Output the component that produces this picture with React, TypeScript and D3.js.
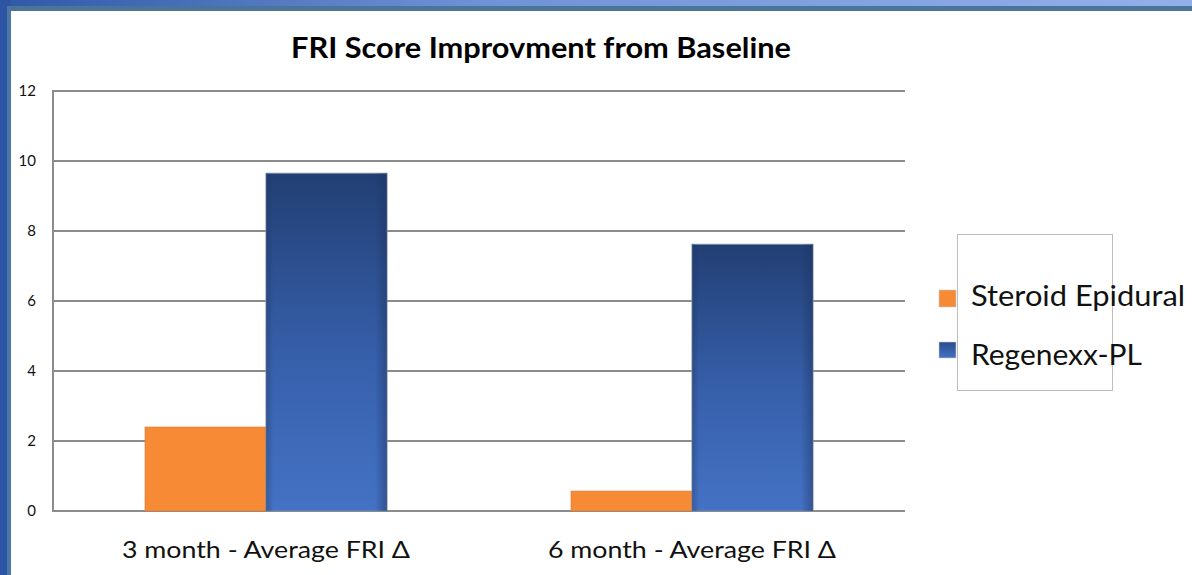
import React from "react";
import * as d3 from "d3";

const categories = ["3 month - Average FRI Δ", "6 month - Average FRI Δ"];
const seriesNames = ["Steroid Epidural", "Regenexx-PL"];
const steroidValues = [2.4, 0.57];
const regenexxValues = [9.65, 7.62];
const yTicks = [0, 2, 4, 6, 8, 10, 12];
const title = "FRI Score Improvment from Baseline";

const W = 1192;
const H = 575;
const M = { left: 53, right: 905, top: 91, bottom: 511 };

export default function App() {
  const x0 = d3.scaleBand<string>().domain(categories).range([M.left, M.right]).paddingInner(0).paddingOuter(0);
  const y = d3.scaleLinear().domain([0, 12]).range([M.bottom, M.top]);
  const groupW = x0.bandwidth();
  const barW = 121;
  const x1 = d3
    .scaleBand<string>()
    .domain(seriesNames)
    .range([groupW / 2 - barW, groupW / 2 + barW])
    .padding(0);

  const series = [steroidValues, regenexxValues];
  const font = "Lato, 'Open Sans', sans-serif";

  return (
    <svg width={W} height={H} style={{ position: "absolute", left: 0, top: 0, display: "block" }}>
      <defs>
        <linearGradient id="topband" x1="0" x2="1" y1="0" y2="0">
          <stop offset="0" stopColor="#2f58a6" />
          <stop offset="0.4" stopColor="#6f92d6" />
          <stop offset="1" stopColor="#93b0ea" />
        </linearGradient>
        <linearGradient id="blueV" x1="0" x2="0" y1="0" y2="1">
          <stop offset="0" stopColor="#223f74" />
          <stop offset="0.55" stopColor="#3760ab" />
          <stop offset="1" stopColor="#4472c4" />
        </linearGradient>
        <linearGradient id="blueEdge" x1="0" x2="1" y1="0" y2="0">
          <stop offset="0" stopColor="#1a2f5a" stopOpacity="0.35" />
          <stop offset="0.06" stopColor="#1a2f5a" stopOpacity="0" />
          <stop offset="0.9" stopColor="#1a2f5a" stopOpacity="0" />
          <stop offset="1" stopColor="#1a2f5a" stopOpacity="0.45" />
        </linearGradient>
        <linearGradient id="legBlue" x1="0" x2="0" y1="0" y2="1">
          <stop offset="0" stopColor="#2a4d8f" />
          <stop offset="1" stopColor="#4472c4" />
        </linearGradient>
      </defs>
      <rect x={0} y={0} width={W} height={H} fill="#ffffff" />
      {/* frame */}
      <rect x={0} y={0} width={W} height={6} fill="url(#topband)" />
      <rect x={0} y={6} width={W} height={5} fill="#4a7598" />
      <rect x={0} y={0} width={7} height={H} fill="#2e55a4" />
      <rect x={7} y={6} width={4} height={H - 6} fill="#4a78a3" />
      <rect x={7} y={0} width={4} height={6} fill="#2e55a4" />

      {/* title */}
      <text x={541} y={58} textAnchor="middle" fontFamily={font} fontWeight={700} fontSize={28} fill="#000" textLength={500} lengthAdjust="spacingAndGlyphs">
        {title}
      </text>

      {/* gridlines */}
      {yTicks.map((t) => (
        <line key={t} x1={M.left} x2={M.right} y1={y(t)} y2={y(t)} stroke="#8c8c8c" strokeWidth={2} />
      ))}
      <line x1={M.left} x2={M.left} y1={M.top - 1} y2={M.bottom + 1} stroke="#8c8c8c" strokeWidth={2} />

      {yTicks.map((t) => (
        <text key={t} x={36} y={y(t) + 5} textAnchor="end" fontFamily={font} fontSize={15} fill="#111">
          {t}
        </text>
      ))}

      {/* bars */}
      {categories.map((c, ci) => (
        <g key={c} transform={`translate(${x0(c)},0)`}>
          {seriesNames.map((s, si) => {
            const v = series[si][ci];
            const bx = x1(s)!;
            const by = y(v);
            const bh = y(0) - by;
            if (si === 0) {
              return <rect key={s} x={bx} y={by} width={barW} height={bh} fill="#f68a35" stroke="#d9773a" strokeWidth={0.6} />;
            }
            return (
              <g key={s}>
                <rect x={bx} y={by} width={barW} height={bh} fill="url(#blueV)" stroke="#7a8aa6" strokeWidth={1} />
                <rect x={bx} y={by} width={barW} height={bh} fill="url(#blueEdge)" />
              </g>
            );
          })}
        </g>
      ))}

      {/* x labels */}
      {categories.map((c) => (
        <text key={c} x={x0(c)! + groupW / 2} y={558} textAnchor="middle" fontFamily={font} fontSize={23} fill="#111" textLength={288} lengthAdjust="spacingAndGlyphs">
          {c}
        </text>
      ))}

      {/* legend */}
      <rect x={957.5} y={234.5} width={155} height={156} fill="#fff" stroke="#bdbdbd" strokeWidth={1} />
      <rect x={939} y={290} width={17} height={17} fill="#f68a35" stroke="#c9c9c9" strokeWidth={0.6} />
      <rect x={939} y={342} width={17} height={16} fill="url(#legBlue)" stroke="#c9c9c9" strokeWidth={0.6} />
      <text x={971} y={306} fontFamily={font} fontSize={29} fill="#111" textLength={214} lengthAdjust="spacingAndGlyphs">
        {seriesNames[0]}
      </text>
      <text x={971} y={365} fontFamily={font} fontSize={29} fill="#111" textLength={171} lengthAdjust="spacingAndGlyphs">
        {seriesNames[1]}
      </text>
    </svg>
  );
}
